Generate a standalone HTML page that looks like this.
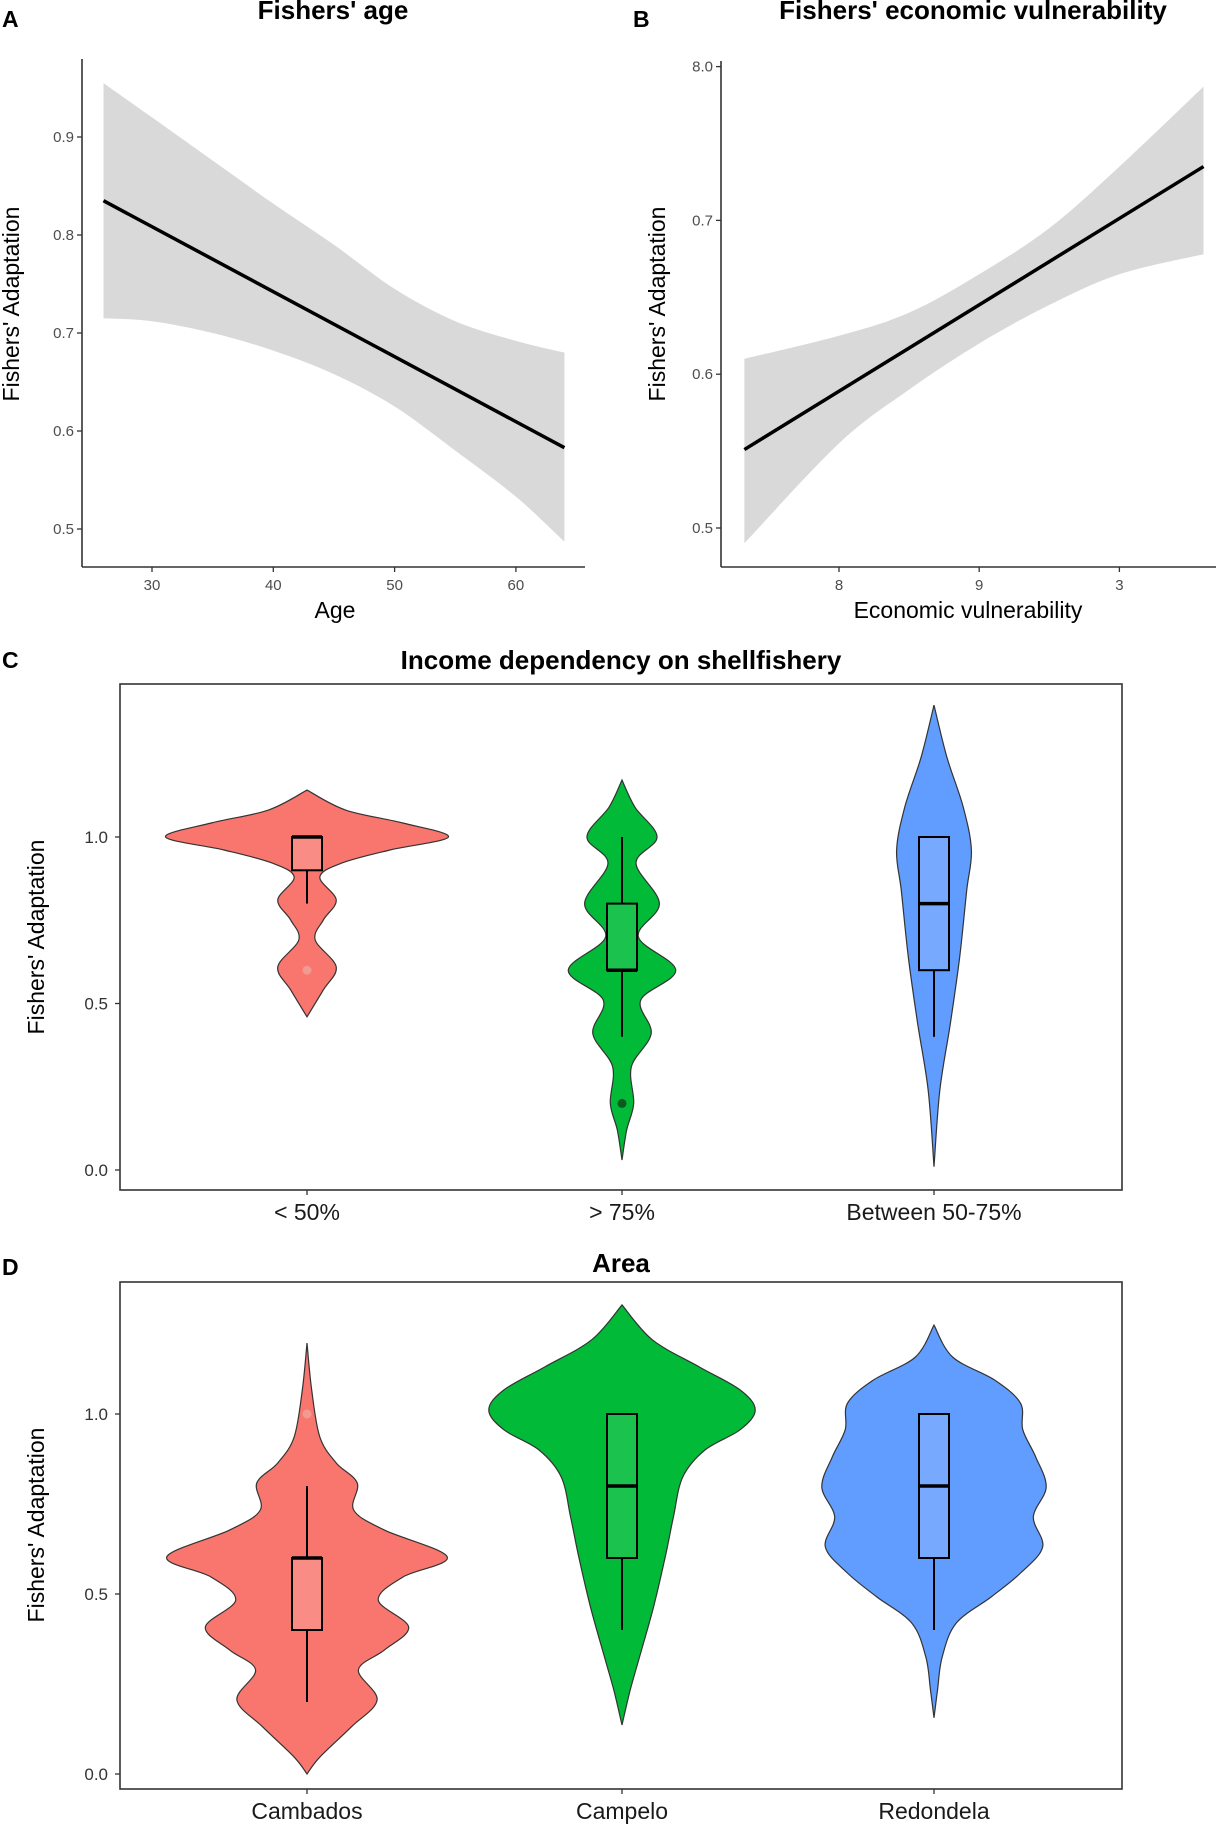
<!DOCTYPE html>
<html><head><meta charset="utf-8"><style>
html,body{margin:0;padding:0;background:#fff;}
svg{display:block;font-family:"Liberation Sans",sans-serif;}
</style></head><body>
<svg id="fig" width="1227" height="1833" viewBox="0 0 1227 1833" xmlns="http://www.w3.org/2000/svg"></svg>
<script>
// ---- Panel A data ----
const ageBandX = [26,30,35,40,45,50,55,60,64];
const ageBandLo = [0.715,0.712,0.700,0.682,0.658,0.625,0.580,0.533,0.487];
const ageBandHi = [0.955,0.920,0.876,0.832,0.790,0.745,0.712,0.692,0.680];
const ageLineX = [26,64];
const ageLineY = [0.835,0.583];
const ageXTicks = [30,40,50,60];
const ageYTicks = [0.5,0.6,0.7,0.8,0.9];
// ---- Panel B data ----
const vulBandX = [0.7325,0.80,0.85,0.90,0.95,1.00,1.06];
const vulBandLo = [0.49,0.555,0.590,0.620,0.645,0.665,0.678];
const vulBandHi = [0.61,0.625,0.640,0.665,0.695,0.735,0.787];
const vulLineX = [0.7325,1.06];
const vulLineY = [0.551,0.735];
const vulXTicks = [0.8,0.9,1.0];
const vulXLabels = ["8","9","3"];
const vulYTicks = [0.5,0.6,0.7,0.8];
const vulYLabels = ["0.5","0.6","0.7","8.0"];
// ---- Panel C data ----
const incCats = ["< 50%","> 75%","Between 50-75%"];
const incYs = [
 [0.46,0.541,0.61,0.691,0.751,0.811,0.88,0.922,0.961,1.0,1.042,1.081,1.141],
 [0.03,0.12,0.2,0.31,0.41,0.51,0.6,0.7,0.8,0.921,1.0,1.09,1.171],
 [0.01,0.24,0.44,0.64,0.84,0.96,1.09,1.24,1.396]];
const incDens = [
 [0,14,25,7,14,25,11,30,71,121,82,33,0],
 [0,4,10,8,25,16,46,14,32,12,30,11,0],
 [0,5,14,22,28,32,25,11,0]];
const incBox = [[0.8,0.9,1.0,1.0,1.0],[0.4,0.6,0.6,0.8,1.0],[0.4,0.6,0.8,1.0,1.0]];
const incOut = [[0.6],[0.2],[]];
// ---- Panel D data ----
const areaCats = ["Cambados","Campelo","Redondela"];
const areaYs = [
 [0,0.047,0.131,0.206,0.289,0.344,0.408,0.483,0.547,0.603,0.678,0.733,0.808,0.864,0.936,1.067,1.197],
 [0.136,0.233,0.325,0.464,0.603,0.714,0.825,0.9,0.956,1.011,1.067,1.131,1.206,1.303],
 [0.156,0.233,0.325,0.419,0.492,0.558,0.631,0.714,0.797,0.881,0.956,1.03,1.094,1.158,1.247]];
const areaDens = [
 [0,11,38,60,44,66,87,61,82,120,66,40,43,25,11,4,0],
 [0,7,15,27,37,44,52,71,101,114,101,66,26,0],
 [0,3,7,19,49,74,93,85,96,87,76,74,52,16,0]];
const areaBox = [[0.2,0.4,0.6,0.6,0.8],[0.4,0.6,0.8,1.0,1.0],[0.4,0.6,0.8,1.0,1.0]];
const areaOut = [[1.0],[],[]];
const fills = ["#F8766D","#00BA38","#619CFF"];
const boxFills = ["#F98C85","#1CC24E","#77AAFF"];

const NS="http://www.w3.org/2000/svg";
const svg=document.getElementById('fig');
function mk(tag,attrs,parent,text){const e=document.createElementNS(NS,tag);for(const k in attrs)e.setAttribute(k,attrs[k]);if(text!==undefined)e.textContent=text;(parent||svg).appendChild(e);return e;}
const S=1.1686;

[["A",2,27],["B",633,27],["C",2,668],["D",2,1275]].forEach(p=>{
 const t=mk('text',{x:p[1],y:p[2],'font-size':23,'font-weight':'bold',fill:'#000'},svg,p[0]);
 
 
});

function smoothPts(pts){
 let d='M'+pts[0][0]+','+pts[0][1];
 for(let i=0;i<pts.length-1;i++){const p0=pts[Math.max(0,i-1)],p1=pts[i],p2=pts[i+1],p3=pts[Math.min(pts.length-1,i+2)];
  d+=`C${p1[0]+(p2[0]-p0[0])/6},${p1[1]+(p2[1]-p0[1])/6} ${p2[0]-(p3[0]-p1[0])/6},${p2[1]-(p3[1]-p1[1])/6} ${p2[0]},${p2[1]}`;}
 return d;
}

function linePanel(o){
 const g=mk('g',{});
 
 
 const sx=v=>o.x0+(v-o.xv0)*o.xs, sy=v=>o.y0-(v-o.yv0)*o.ys;
 const hiPts=o.bx.map((v,i)=>[sx(v),sy(o.hi[i])]);
 const loPts=o.bx.map((v,i)=>[sx(v),sy(o.lo[i])]).reverse();
 const d=smoothPts(hiPts)+smoothPts(loPts).replace('M','L')+'Z';
 const band=mk('path',{d:d,fill:'#d9d9d9'},g);
 
 
 const ln=mk('line',{x1:sx(o.lx[0]),y1:sy(o.ly[0]),x2:sx(o.lx[1]),y2:sy(o.ly[1]),stroke:'#000','stroke-width':3.5},g);
 
 
 mk('line',{x1:o.ax,y1:o.top,x2:o.ax,y2:o.bot,stroke:'#333','stroke-width':1.6},g);
 mk('line',{x1:o.ax,y1:o.bot,x2:o.right,y2:o.bot,stroke:'#333','stroke-width':1.6},g);
 o.yt.forEach((v,i)=>{const y=sy(v);mk('line',{x1:o.ax-5,y1:y,x2:o.ax,y2:y,stroke:'#333','stroke-width':1.3},g);
  const t=mk('text',{x:o.ax-8,y:y+5,'text-anchor':'end','font-size':15,fill:'#4d4d4d'},g,o.yl?o.yl[i]:v.toFixed(1));
  
  });
 o.xt.forEach((v,i)=>{const x=sx(v);mk('line',{x1:x,y1:o.bot,x2:x,y2:o.bot+5,stroke:'#333','stroke-width':1.3},g);
  const t=mk('text',{x:x,y:o.bot+23,'text-anchor':'middle','font-size':15,fill:'#4d4d4d'},g,o.xl?o.xl[i]:String(v));
  
  });
 const tt=mk('text',{x:o.tx,y:19,'text-anchor':'middle','font-size':26,'font-weight':'bold'},g,o.title);
 
 
 const xt=mk('text',{x:o.xtx,y:618,'text-anchor':'middle','font-size':23,fill:'#000'},g,o.xtitle);
 
 
 const yt=mk('text',{transform:`translate(${o.ytx},${o.yty}) rotate(-90)`,'text-anchor':'middle','font-size':23},g,"Fishers' Adaptation");
 
 
}
linePanel({name:'panel-a-age',x0:152,xv0:30,xs:12.13,y0:529,yv0:0.5,ys:980,bx:ageBandX,lo:ageBandLo,hi:ageBandHi,lx:ageLineX,ly:ageLineY,
 ax:82,top:59,bot:567,right:585,yt:ageYTicks,xt:ageXTicks,title:"Fishers' age",tx:333,xtitle:'Age',xtx:335,ytx:19,yty:304});
linePanel({name:'panel-b-vulnerability',x0:839,xv0:0.8,xs:1402,y0:528,yv0:0.5,ys:1538,bx:vulBandX,lo:vulBandLo,hi:vulBandHi,lx:vulLineX,ly:vulLineY,
 ax:721,top:61,bot:567,right:1216,yt:vulYTicks,yl:vulYLabels,xt:vulXTicks,xl:vulXLabels,title:"Fishers' economic vulnerability",tx:973,xtitle:'Economic vulnerability',xtx:968,ytx:665,yty:304});

function violinPanel(o){
 const g=mk('g',{});
 
 
 const sy=v=>o.y0-v*o.ys;
 const cx=[307,622,934];
 const fr=mk('rect',{x:120,y:o.top,width:1002,height:o.bot-o.top,fill:'none',stroke:'#333','stroke-width':1.6},g);
 
 
 o.cats.forEach((c,k)=>{
  const ys=o.ys_[k],ws=o.dens[k];
  const right=ys.map((y,i)=>[cx[k]+ws[i]*S,sy(y)]).reverse();
  const left=ys.map((y,i)=>[cx[k]-ws[i]*S,sy(y)]);
  const d=smoothPts(right)+smoothPts(left).replace('M','L')+'Z';
  const v=mk('path',{d:d,fill:fills[k],stroke:'#333','stroke-width':1.2},g);
  
  
  const b=o.box[k],hw=15;
  mk('line',{x1:cx[k],y1:sy(b[0]),x2:cx[k],y2:sy(b[1]),stroke:'#000','stroke-width':2},g);
  mk('line',{x1:cx[k],y1:sy(b[3]),x2:cx[k],y2:sy(b[4]),stroke:'#000','stroke-width':2},g);
  const r=mk('rect',{x:cx[k]-hw,y:sy(b[3]),width:2*hw,height:Math.max(0,sy(b[1])-sy(b[3])),fill:boxFills[k],stroke:'#000','stroke-width':2},g);
  
  
  mk('line',{x1:cx[k]-hw,y1:sy(b[2]),x2:cx[k]+hw,y2:sy(b[2]),stroke:'#000','stroke-width':3.5},g);
  o.out[k].forEach(v2=>{const c2=mk('circle',{cx:cx[k],cy:sy(v2),r:4.5,fill:k==1?'#0a5a20':'#f09a92'},g);
   
   });
  mk('line',{x1:cx[k],y1:o.bot,x2:cx[k],y2:o.bot+5,stroke:'#333','stroke-width':1.3},g);
  const t=mk('text',{x:cx[k],y:o.bot+30,'text-anchor':'middle','font-size':23,fill:'#1a1a1a'},g,c);
  
  
 });
 [0,0.5,1.0].forEach(v=>{const y=sy(v);mk('line',{x1:115,y1:y,x2:120,y2:y,stroke:'#333','stroke-width':1.3},g);
  const t=mk('text',{x:108,y:y+6,'text-anchor':'end','font-size':17,fill:'#333'},g,v.toFixed(1));
  
  });
 const tt=mk('text',{x:621,y:o.ty,'text-anchor':'middle','font-size':26,'font-weight':'bold'},g,o.title);
 
 
 const yt=mk('text',{transform:`translate(44,${o.yty}) rotate(-90)`,'text-anchor':'middle','font-size':23},g,"Fishers' Adaptation");
 
 
}
violinPanel({name:'panel-c-income',top:684,bot:1190,y0:1170,ys:333,cats:incCats,ys_:incYs,dens:incDens,box:incBox,out:incOut,title:'Income dependency on shellfishery',ty:669,yty:937});
violinPanel({name:'panel-d-area',top:1282,bot:1789,y0:1774,ys:360,cats:areaCats,ys_:areaYs,dens:areaDens,box:areaBox,out:areaOut,title:'Area',ty:1272,yty:1525});
</script>
</body></html>
